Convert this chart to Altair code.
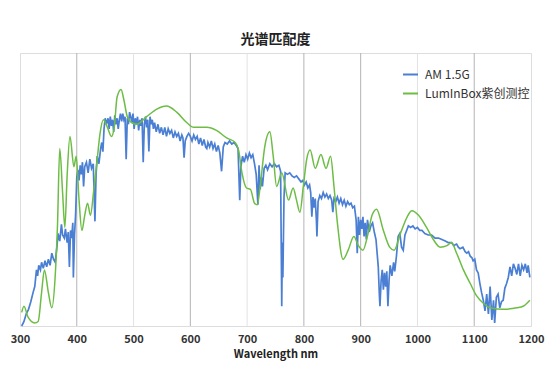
import altair as alt
import pandas as pd

# AM 1.5G reference spectrum
am_wl = [303, 307, 311, 315, 319, 323, 326, 329, 331, 333, 336, 338, 341, 344, 347, 350, 353, 356, 359, 362,
         365, 367, 370, 373, 375, 378, 380, 383, 385, 387, 389, 391, 393, 394, 396, 398, 400, 402, 404, 406,
         408, 410, 412, 414, 417, 420, 423, 426, 429, 432, 434, 436, 439, 442, 444, 446, 448, 450,
         452, 455, 457, 459, 461, 463, 465, 467, 469, 471, 473, 475, 477, 479, 481, 483, 485, 487, 489, 491,
         493, 495, 497, 499, 501, 503, 505, 507, 509, 511, 513, 515, 517, 519, 521, 523, 525, 527, 529, 531,
         533, 535, 537, 540, 543, 546, 549, 552, 555, 558, 561, 564, 567, 570, 573, 576, 579, 582, 585, 587,
         589, 591, 594, 597, 600,
         603, 606, 609, 612, 615, 618, 621, 624, 627, 629, 631, 634, 637, 640, 643, 646, 649, 652, 655, 658,
         661, 665, 669, 673, 677, 681, 684, 687, 689, 692, 695, 698, 701, 704, 707, 710, 713, 716, 719, 721,
         723, 725, 727, 730, 733, 736, 740, 744, 748, 752, 756, 759,
         761, 762, 763, 765, 767, 771, 775, 779, 783, 787, 791, 795, 798, 801, 804, 807, 810, 812, 814, 816,
         818, 820, 822, 823, 825, 828, 831, 834, 837, 840, 843, 846, 849, 851, 853, 856, 859, 862, 865, 868,
         871, 874, 877, 880, 883, 886, 889, 892, 894, 896, 898, 900,
         902, 904, 906, 908, 910, 912, 915, 918, 921, 924, 927, 929, 931, 933, 934, 936, 938, 940, 942, 944,
         946, 948, 950, 952, 955, 958, 960, 963, 966, 969, 972, 975, 978, 981, 984, 988, 992, 996, 1000, 1004,
         1008, 1013, 1019, 1025, 1031, 1037, 1043, 1049, 1054,
         1060, 1064, 1069, 1072, 1075, 1080, 1084, 1087, 1090, 1093, 1096, 1098, 1101, 1104, 1107, 1110, 1113,
         1116, 1119, 1122, 1125, 1128, 1131, 1134, 1136, 1139, 1142, 1145, 1148, 1151, 1154, 1157, 1160, 1163,
         1166, 1169, 1172, 1175, 1178, 1181, 1184, 1187, 1190, 1193, 1195, 1198]
am_val = [0.00, 0.03, 0.08, 0.11, 0.16, 0.22, 0.26, 0.37, 0.33, 0.40, 0.37, 0.42, 0.38, 0.43, 0.39, 0.44, 0.40, 0.48, 0.44, 0.42,
          0.52, 0.61, 0.56, 0.67, 0.60, 0.58, 0.64, 0.55, 0.62, 0.39, 0.63, 0.58, 0.68, 0.32, 0.60, 0.74, 0.98, 1.03, 0.96, 1.06,
          1.00, 1.08, 0.92, 1.05, 1.08, 1.01, 1.10, 1.04, 1.07, 0.69, 1.00, 1.12, 1.07, 1.17, 1.21, 1.15, 1.30, 1.37,
          1.33, 1.37, 1.30, 1.38, 1.32, 1.36, 1.28, 1.39, 1.33, 1.37, 1.30, 1.36, 1.40, 1.35, 1.40, 1.36, 1.38, 1.10, 1.37, 1.33,
          1.41, 1.38, 1.34, 1.40, 1.30, 1.37, 1.33, 1.38, 1.29, 1.36, 1.32, 1.37, 1.08, 1.33, 1.38, 1.31, 1.36, 1.15, 1.38, 1.33,
          1.36, 1.30, 1.34, 1.28, 1.33, 1.27, 1.31, 1.26, 1.31, 1.25, 1.30, 1.27, 1.29, 1.24, 1.28, 1.25, 1.27, 1.22, 1.26, 1.24,
          1.11, 1.22, 1.25, 1.27, 1.25,
          1.22, 1.26, 1.23, 1.25, 1.20, 1.24, 1.19, 1.23, 1.18, 1.17, 1.21, 1.18, 1.22, 1.17, 1.20, 1.15, 1.19, 1.14, 1.02, 1.18,
          1.21, 1.20, 1.22, 1.20, 1.21, 1.19, 1.17, 0.83, 1.05, 1.12, 1.08, 1.13, 1.10, 1.14, 1.11, 1.13, 1.07, 1.00, 0.80, 1.06,
          0.90, 0.98, 0.92, 1.04, 1.06, 1.03, 1.07, 1.05, 1.07, 1.05, 1.06, 1.02,
          0.13, 0.55, 0.32, 0.85, 1.01, 1.00, 1.01, 0.99, 0.98, 0.99, 0.97, 0.95, 0.96, 0.93, 0.95, 0.91, 0.93, 0.88, 0.72, 0.85,
          0.78, 0.84, 0.70, 0.59, 0.82, 0.86, 0.84, 0.88, 0.85, 0.87, 0.84, 0.86, 0.83, 0.75, 0.84, 0.82, 0.85, 0.81, 0.84, 0.80,
          0.83, 0.79, 0.82, 0.80, 0.81, 0.78, 0.79, 0.70, 0.48, 0.72, 0.60, 0.70,
          0.64, 0.72, 0.59, 0.68, 0.57, 0.70, 0.62, 0.66, 0.68, 0.62, 0.57, 0.48, 0.39, 0.20, 0.13, 0.30, 0.37, 0.24, 0.35, 0.26,
          0.36, 0.13, 0.30, 0.40, 0.33, 0.42, 0.36, 0.46, 0.59, 0.61, 0.52, 0.50, 0.60, 0.63, 0.66, 0.65, 0.66, 0.64, 0.65, 0.63,
          0.63, 0.61, 0.60, 0.60, 0.58, 0.58, 0.57, 0.56, 0.55,
          0.55, 0.53, 0.54, 0.52, 0.51, 0.52, 0.49, 0.48, 0.49, 0.46, 0.45, 0.43, 0.44, 0.37, 0.35, 0.28, 0.22,
          0.17, 0.10, 0.21, 0.08, 0.26, 0.04, 0.17, 0.02, 0.19, 0.21, 0.12, 0.16, 0.17, 0.25, 0.28, 0.32, 0.39,
          0.33, 0.41, 0.38, 0.34, 0.41, 0.33, 0.40, 0.37, 0.41, 0.35, 0.40, 0.32]

# LumInBox simulator spectrum
lb_wl = [303, 307, 314, 326, 332, 338, 343, 350, 356, 362, 366, 370, 375, 379, 383, 388, 395, 399, 404, 409,
         414, 419, 424, 430, 436, 441, 447, 454, 461, 466, 471, 478, 483, 489, 497, 506, 523, 541, 558, 576,
         594, 606, 629, 646, 664, 679, 685, 691, 699, 706, 713, 718, 723, 731, 740, 746, 752, 761, 773, 781,
         787, 793, 799, 805, 811, 820, 830, 839, 847, 853, 859, 869, 878, 888, 896, 904, 913, 920, 928, 940,
         951, 959, 970, 982, 990, 1002, 1016, 1028, 1040, 1052, 1060, 1069, 1081, 1093, 1104, 1116, 1128, 1151,
         1175, 1186, 1198]
lb_val = [0.09, 0.13, 0.06, 0.02, 0.03, 0.22, 0.37, 0.22, 0.12, 0.33, 0.66, 1.17, 0.88, 0.65, 0.99, 1.25, 1.05, 1.12, 0.83, 0.63,
          0.73, 0.81, 0.73, 0.90, 1.10, 1.27, 1.36, 1.31, 1.25, 1.31, 1.51, 1.56, 1.49, 1.38, 1.34, 1.33, 1.38, 1.43, 1.45, 1.41,
          1.34, 1.31, 1.31, 1.29, 1.24, 1.21, 1.16, 1.01, 0.91, 0.90, 0.81, 0.80, 0.92, 1.18, 1.28, 1.12, 0.92, 1.01, 0.83, 0.91,
          0.83, 0.75, 0.92, 1.10, 1.16, 1.04, 1.13, 1.04, 1.12, 0.92, 0.68, 0.44, 0.50, 0.59, 0.53, 0.50, 0.61, 0.73, 0.77, 0.63,
          0.52, 0.50, 0.61, 0.72, 0.76, 0.73, 0.65, 0.57, 0.52, 0.53, 0.55, 0.48, 0.37, 0.28, 0.20, 0.15, 0.12, 0.11,
          0.12, 0.13, 0.17]

series = ["AM 1.5G", "LumInBox紫创测控"]
colors = ["#4a7fd3", "#6dbd45"]
tick_values = [300, 400, 500, 600, 700, 800, 900, 1000, 1100, 1200]
grid_dark = [400, 600, 800, 900, 1100]
grid_light = [500, 700, 1000]

FONT = "Noto Sans CJK SC"

am = pd.DataFrame({"wl": am_wl, "val": am_val, "series": series[0]})
lb = pd.DataFrame({"wl": lb_wl, "val": lb_val, "series": series[1]})
gd = pd.DataFrame({"wl": grid_dark})
gl = pd.DataFrame({"wl": grid_light})

xscale = alt.Scale(domain=[300, 1200], nice=False, zero=False)
yscale = alt.Scale(domain=[0, 1.8], nice=False, zero=True)

xaxis = alt.Axis(
    values=tick_values, format="d", title="Wavelength nm", grid=False, ticks=False, domain=False,
    labelPadding=7, labelFontSize=11, labelFont=FONT, labelFontWeight="bold", labelColor="#333",
    labelFlush=False, labelOverlap=False,
    titleFontSize=11, titleFont=FONT, titleFontWeight="bold", titleColor="#222", titlePadding=4,
)
X = alt.X("wl:Q", scale=xscale, axis=xaxis)

color = alt.Color(
    "series:N",
    scale=alt.Scale(domain=series, range=colors),
    legend=alt.Legend(
        title=None, orient="none", legendX=382, legendY=13,
        symbolType="stroke", symbolSize=225, symbolStrokeWidth=2,
        labelFontSize=12, labelFont=FONT, labelColor="#333",
        labelOffset=6, rowPadding=4, padding=0,
    ),
    sort=series,
)

rules_dark = alt.Chart(gd).mark_rule(color="#b4b4b4", strokeWidth=1).encode(x=X)
rules_light = alt.Chart(gl).mark_rule(color="#e2e2e2", strokeWidth=1).encode(x=X)

am_line = alt.Chart(am).mark_line(strokeWidth=1.7).encode(
    x=X,
    y=alt.Y("val:Q", scale=yscale, axis=None),
    color=color,
)
lb_line = alt.Chart(lb).mark_line(strokeWidth=1.5, interpolate="monotone").encode(
    x=X,
    y=alt.Y("val:Q", scale=yscale, axis=None),
    color=color,
)

chart = alt.layer(rules_light, rules_dark, am_line, lb_line).properties(
    width=511, height=273,
    title=alt.TitleParams("光谱匹配度", fontSize=14, fontWeight="bold", font=FONT, color="#222", offset=6),
    autosize=alt.AutoSizeParams(type="none"),
    padding={"left": 12, "top": 45, "right": 14, "bottom": 50},
).configure_view(stroke="#9a9a9a", strokeWidth=1).configure(background="white")

chart.save("out.html", embed_options={"renderer": "svg", "actions": False})
